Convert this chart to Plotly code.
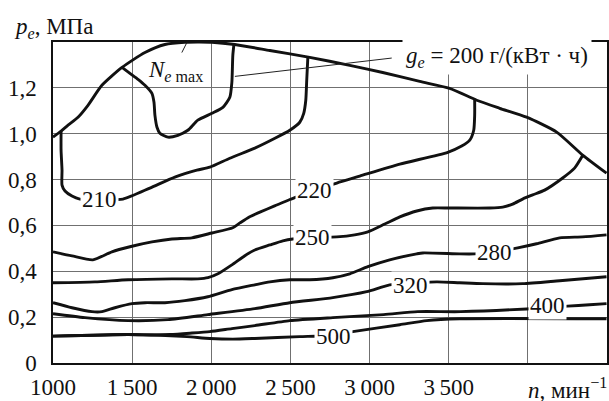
import plotly.graph_objects as go

# ---------------- data (n in min^-1, p_e in MPa) ----------------
env_n = [1000, 1051, 1095, 1158, 1221, 1309, 1436, 1581, 1707, 1833, 1928, 2004, 2149, 2370, 2622, 2875, 3083, 3317, 3506, 3677, 3822, 3992, 4182, 4346, 4497]
env_p = [0.985, 1.011, 1.037, 1.072, 1.124, 1.211, 1.289, 1.354, 1.389, 1.399, 1.400, 1.399, 1.389, 1.363, 1.333, 1.298, 1.267, 1.228, 1.198, 1.146, 1.111, 1.072, 1.007, 0.907, 0.828]

g200_n = [1436, 1486, 1537, 1581, 1625, 1638, 1644, 1657, 1675, 1726, 1789, 1852, 1915, 2004, 2073, 2117, 2130, 2136, 2143]
g200_p = [1.289, 1.263, 1.237, 1.211, 1.176, 1.137, 1.080, 1.028, 1.002, 0.985, 0.993, 1.015, 1.059, 1.089, 1.115, 1.159, 1.224, 1.341, 1.389]

g210_n = [1051, 1051, 1057, 1057, 1076, 1120, 1170, 1300, 1442, 1612, 1770, 1909, 1991, 2117, 2275, 2402, 2496, 2559, 2584, 2597, 2603, 2610]
g210_p = [1.011, 0.928, 0.841, 0.776, 0.750, 0.728, 0.715, 0.712, 0.715, 0.763, 0.811, 0.841, 0.854, 0.893, 0.937, 0.980, 1.015, 1.050, 1.089, 1.146, 1.233, 1.333]

g220_n = [1000, 1120, 1252, 1372, 1486, 1625, 1751, 1877, 2004, 2136, 2181, 2240, 2307, 2400, 2496, 2654, 2793, 2938, 3191, 3494, 3582, 3633, 3658, 3664, 3664]
g220_p = [0.485, 0.467, 0.450, 0.485, 0.507, 0.528, 0.541, 0.546, 0.567, 0.590, 0.611, 0.637, 0.658, 0.685, 0.713, 0.752, 0.785, 0.815, 0.867, 0.919, 0.946, 0.972, 1.015, 1.080, 1.152]

g250_n = [1000, 1265, 1474, 1751, 1915, 1979, 2042, 2130, 2212, 2275, 2370, 2452, 2515, 2641, 2793, 2906, 2989, 3096, 3191, 3298, 3399, 3506, 3759, 3841, 3904, 3967, 4030, 4106, 4220, 4295, 4346]
g250_p = [0.350, 0.354, 0.363, 0.367, 0.367, 0.372, 0.389, 0.428, 0.468, 0.493, 0.515, 0.533, 0.541, 0.546, 0.550, 0.559, 0.572, 0.606, 0.637, 0.663, 0.676, 0.676, 0.676, 0.680, 0.693, 0.715, 0.733, 0.754, 0.807, 0.850, 0.905]

g280_n = [1000, 1120, 1246, 1309, 1391, 1499, 1581, 1707, 1833, 1978, 2130, 2275, 2370, 2496, 2622, 2768, 2875, 2989, 3127, 3298, 3336, 3569, 3664, 3803, 3936, 4055, 4201, 4346, 4497]
g280_p = [0.263, 0.241, 0.224, 0.224, 0.241, 0.259, 0.263, 0.263, 0.272, 0.289, 0.320, 0.341, 0.354, 0.363, 0.363, 0.372, 0.389, 0.420, 0.450, 0.476, 0.480, 0.476, 0.476, 0.485, 0.502, 0.520, 0.546, 0.550, 0.559]

g320_n = [1000, 1202, 1474, 1726, 1978, 2275, 2496, 2768, 2982, 3127, 3254, 3424, 3569, 3714, 3967, 4201, 4497]
g320_p = [0.215, 0.198, 0.185, 0.189, 0.211, 0.237, 0.263, 0.285, 0.311, 0.341, 0.346, 0.354, 0.350, 0.346, 0.346, 0.359, 0.376]

g400_n = [1000, 1474, 1644, 1739, 1865, 1991, 2130, 2275, 2496, 2768, 3089, 3304, 3576, 4119, 4250, 4390, 4497]
g400_p = [0.117, 0.124, 0.122, 0.124, 0.130, 0.137, 0.150, 0.163, 0.185, 0.198, 0.211, 0.224, 0.224, 0.241, 0.248, 0.254, 0.259]

g500_n = [1000, 1474, 1644, 1846, 1991, 2136, 2275, 2559, 2740, 2894, 3191, 3361, 3569, 4497]
g500_p = [0.117, 0.124, 0.122, 0.115, 0.107, 0.104, 0.107, 0.115, 0.120, 0.137, 0.167, 0.185, 0.193, 0.193]

# contour labels: text, n, p
lab_text = ["210", "220", "250", "280", "320", "400", "500"]
lab_n = [1295, 2654, 2641, 3790, 3260, 4125, 2770]
lab_p = [0.712, 0.752, 0.546, 0.483, 0.339, 0.250, 0.115]

x_tickvals = [1000, 1500, 2000, 2500, 3000, 3500, 4000]
x_ticktext = ["1000", "1\u2009500", "2\u2009000", "2\u2009500", "3\u2009000", "3\u2009500", ""]
y_tickvals = [0, 0.2, 0.4, 0.6, 0.8, 1.0, 1.2]
y_ticktext = ["0", "0,2", "0,4", "0,6", "0,8", "1,0", "1,2"]

# leader lines (n, p)
lead_ge_n = [2149, 3140]
lead_ge_p = [1.250, 1.330]
lead_ne_n = [1814, 1846]
lead_ne_p = [1.354, 1.398]

FONT = "Liberation Serif"
FS = 23
LW = 2.9

fig = go.Figure()
for xs, ys in [(env_n, env_p), (g200_n, g200_p), (g210_n, g210_p), (g220_n, g220_p),
               (g250_n, g250_p), (g280_n, g280_p), (g320_n, g320_p), (g400_n, g400_p),
               (g500_n, g500_p)]:
    fig.add_trace(go.Scatter(x=xs, y=ys, mode="lines",
                             line=dict(color="#111", width=LW, shape="spline", smoothing=0.6),
                             hoverinfo="skip", showlegend=False))

for xs, ys in [(lead_ge_n, lead_ge_p), (lead_ne_n, lead_ne_p)]:
    fig.add_trace(go.Scatter(x=xs, y=ys, mode="lines", line=dict(color="#222", width=1),
                             hoverinfo="skip", showlegend=False))

for t, xn, yp in zip(lab_text, lab_n, lab_p):
    fig.add_annotation(x=xn, y=yp, text=t, showarrow=False, bgcolor="white",
                       borderpad=1, font=dict(family=FONT, size=FS, color="#111"))

fig.add_annotation(x=3805, y=1.335, text="<i>g</i><sub><i>e</i></sub> = 200 г/(кВт · ч)",
                   showarrow=False, bgcolor="white", borderpad=3,
                   font=dict(family=FONT, size=FS, color="#111"))
fig.add_annotation(x=1590, y=1.275, xanchor="left", text="<i>N</i><sub><i>e</i> max</sub>",
                   showarrow=False, font=dict(family=FONT, size=FS, color="#111"))

fig.add_annotation(xref="paper", yref="paper", x=-0.074, y=1.045, xanchor="left", yanchor="middle",
                   text="<i>p</i><sub><i>e</i></sub>, МПа", showarrow=False,
                   font=dict(family=FONT, size=FS, color="#111"))
fig.add_annotation(xref="paper", yref="paper", x=1.004, y=-0.08, xanchor="right", yanchor="middle",
                   text="<i>n</i>, мин<sup>−1</sup>", showarrow=False,
                   font=dict(family=FONT, size=FS, color="#111"))

fig.update_xaxes(range=[1000, 4500], tickvals=x_tickvals, ticktext=x_ticktext,
                 showgrid=True, gridcolor="#707070", gridwidth=1, zeroline=False,
                 showline=True, mirror=True, linecolor="#111", linewidth=1.5,
                 ticks="", ticklabelstandoff=3, automargin=False,
                 tickfont=dict(family=FONT, size=FS, color="#111"))
fig.update_yaxes(range=[0, 1.4], tickvals=y_tickvals, ticktext=y_ticktext,
                 showgrid=True, gridcolor="#707070", gridwidth=1, zeroline=False,
                 showline=True, mirror=True, linecolor="#111", linewidth=1.5,
                 ticks="", ticklabelstandoff=10, automargin=False,
                 tickfont=dict(family=FONT, size=FS, color="#111"))

fig.update_layout(width=609, height=401, margin=dict(l=53, r=2, t=42, b=38),
                  plot_bgcolor="white", paper_bgcolor="white", showlegend=False,
                  font=dict(family=FONT, size=FS, color="#111"))

fig.write_html("out.html", config={"displayModeBar": False},
               post_script="document.body.style.margin='0';")
